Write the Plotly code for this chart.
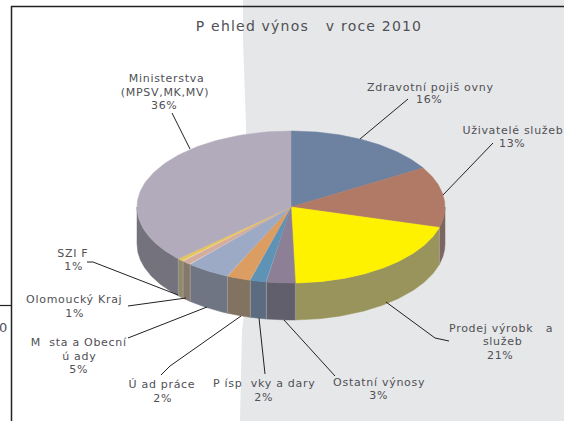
import numpy as np
import plotly.graph_objects as go

categories = ["Zdravotní pojiš ovny", "Uživatelé služeb", "Prodej výrobk  a služeb", "Ostatní výnosy",
              "P ísp vky a dary", "Ú ad práce", "M sta a Obecní ú ady", "Olomoucký Kraj", "SZIF",
              "Ministerstva (MPSV,MK,MV)"]
shares = [16.4, 12.9, 20.2, 3.0, 1.7, 2.5, 4.6, 1.0, 0.7, 36.9]
percent_labels = ["16%", "13%", "21%", "3%", "2%", "2%", "5%", "1%", "1%", "36%"]
top_colors = ["#6d81a1", "#b07a66", "#fff200", "#8d7f96", "#5f93b5", "#dc9d63", "#9daac6", "#d4ad9f", "#e6c65c", "#b2abbb"]
side_colors = ["#55647b", "#7b6662", "#99945b", "#625f6d", "#5c6c80", "#827360", "#6f7582", "#85776a", "#8f8a68", "#74727d"]
title_text = "P\u00a0ehled výnos\u00a0\u00a0\u00a0v roce 2010"

# label lines: text, centre x, centre y (px)
label_lines = [
    ("Zdravotní pojiš\u00a0ovny", 430, 87), ("16%", 429, 99),
    ("Uživatelé služeb", 513, 130), ("13%", 512, 143),
    ("Prodej výrobk\u00a0\u00a0\u00a0a", 501, 328), ("služeb", 502, 341.5), ("21%", 500, 355),
    ("Ostatní výnosy", 379, 382), ("3%", 378, 395),
    ("P\u00a0ísp\u00a0\u00a0vky a dary", 264, 383), ("2%", 263, 397),
    ("Ú\u00a0ad práce", 162, 384), ("2%", 162, 398),
    ("M\u00a0\u00a0sta a Obecní", 79, 342), ("ú\u00a0ady", 79, 356), ("5%", 78, 369),
    ("Olomoucký Kraj", 74, 299), ("1%", 74, 313),
    ("SZI F", 73, 253), ("1%", 73, 266),
    ("Ministerstva", 166, 78), ("(MPSV,MK,MV)", 165, 92), ("36%", 164, 105),
]
leaders = [
    ([360, 408], [139, 99]),
    ([443, 493], [195, 143]),
    ([386, 435, 449], [302, 338, 341]),
    ([284, 335], [320, 376]),
    ([259, 265], [318, 374]),
    ([241, 170, 161], [316, 366, 375]),
    ([207, 128], [307, 338]),
    ([186, 128], [298, 306]),
    ([178, 93, 87], [295, 262, 262]),
    ([190, 172], [149, 113]),
]

W, H = 564, 421
CX, CY, RX, RY, DEPTH = 291, 207, 154, 76, 37
GREY = "#e6e7e9"
TEXT = "#505055"
FONT = "DejaVu Sans"

edges = np.cumsum([0] + shares) / sum(shares) * 2 * np.pi


def rim(a0, a1, n=80):
    t = np.linspace(a0, a1, n)
    return CX + RX * np.sin(t), CY - RY * np.cos(t)


fig = go.Figure()

# outer wall: only the front half of the ellipse is visible
for i, col in enumerate(side_colors):
    a0, a1 = max(edges[i], np.pi / 2), min(edges[i + 1], 3 * np.pi / 2)
    if a1 <= a0:
        continue
    x, y = rim(a0, a1)
    xs = np.r_[x, x[::-1], x[0]]
    ys = np.r_[y, y[::-1] + DEPTH, y[0]]
    fig.add_trace(go.Scatter(x=xs, y=ys, mode="lines", fill="toself", fillcolor=col,
                             line=dict(color=col, width=0.5), hoverinfo="skip", showlegend=False))

# faint seams between the wall segments
for e in edges:
    if np.pi / 2 < e < 3 * np.pi / 2:
        x, y = rim(e, e, 2)
        fig.add_trace(go.Scatter(x=x, y=[y[0], y[0] + DEPTH], mode="lines",
                                 line=dict(color="#a8a5a3", width=0.7), hoverinfo="skip", showlegend=False))

# top face
for i, col in enumerate(top_colors):
    x, y = rim(edges[i], edges[i + 1])
    xs = np.r_[CX, x, CX]
    ys = np.r_[CY, y, CY]
    fig.add_trace(go.Scatter(x=xs, y=ys, mode="lines", fill="toself", fillcolor=col,
                             line=dict(color=col, width=0.5), hoverinfo="skip", showlegend=False))

# leader lines
for lx, ly in leaders:
    fig.add_trace(go.Scatter(x=lx, y=ly, mode="lines", line=dict(color="#222222", width=1),
                             hoverinfo="skip", showlegend=False))

annotations = [dict(x=x, y=y, xref="x", yref="y", text=t, showarrow=False, xanchor="center", yanchor="middle",
                    font=dict(family=FONT, size=11, color=TEXT), align="center")
               for t, x, y in label_lines]
annotations.append(dict(x=309, y=26, xref="x", yref="y", text=title_text, showarrow=False, xanchor="center",
                        yanchor="middle", font=dict(family=FONT, size=14, color=TEXT)))
annotations.append(dict(x=9, y=327, xref="x", yref="y", text="0", showarrow=False, xanchor="right",
                        yanchor="middle", font=dict(family=FONT, size=13, color=TEXT)))

shapes = [
    dict(type="path", layer="below", xref="x", yref="y", line=dict(width=0), fillcolor=GREY,
         path="M 243 0 L 243 40 L 246 125 L 246 300 L 242 330 L 240 421 L 564 421 L 564 0 Z"),
    dict(type="line", xref="x", yref="y", x0=11, x1=564, y0=6.5, y1=6.5, line=dict(color="#222222", width=1.5)),
    dict(type="line", xref="x", yref="y", x0=11.5, x1=11.5, y0=6, y1=421, line=dict(color="#222222", width=1.5)),
    dict(type="line", xref="x", yref="y", x0=0, x1=11, y0=305.5, y1=305.5, line=dict(color="#222222", width=1.2)),
]

fig.update_layout(
    width=W, height=H, margin=dict(l=0, r=0, t=0, b=0), paper_bgcolor="white", plot_bgcolor="white",
    xaxis=dict(range=[0, W], visible=False, fixedrange=True),
    yaxis=dict(range=[H, 0], visible=False, fixedrange=True),
    annotations=annotations, shapes=shapes, showlegend=False,
)
post = """
document.body.style.margin='0';
document.body.style.overflow='hidden';
document.querySelectorAll('.annotation-text').forEach(function(t){
  var c = t.textContent;
  t.style.letterSpacing = c.indexOf('2010')>=0 ? '1.2px' : (c==='0' ? '0' : '0.7px');
});
"""
fig.write_html("out.html", config={"displayModeBar": False}, post_script=post)
